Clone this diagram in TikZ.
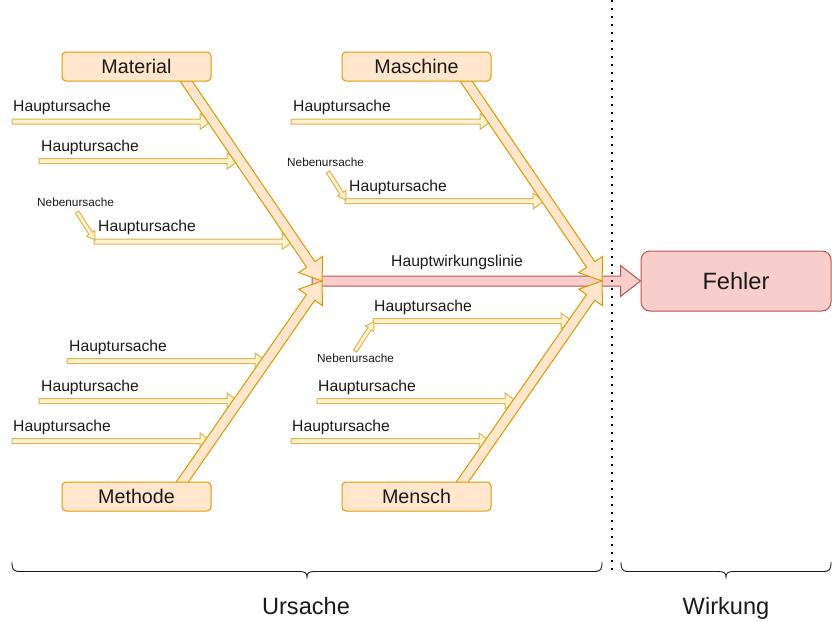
\documentclass[tikz,border=0pt]{standalone}
\usepackage{fontspec}
\setmainfont{Liberation Sans}
\usetikzlibrary{calc}
\definecolor{orfill}{HTML}{FFE6CC}
\definecolor{ordraw}{HTML}{D79B00}
\definecolor{yefill}{HTML}{FFF2CC}
\definecolor{yedraw}{HTML}{D6B656}
\definecolor{refill}{HTML}{F8CECC}
\definecolor{redraw}{HTML}{B85450}
\definecolor{txt}{HTML}{1A1A1A}
% #1 style, #2 from, #3 to, #4 half shaft, #5 half head, #6 head length
\newcommand{\blockarr}[6]{%
  \coordinate (ba-h) at ($(#3)!#6!(#2)$);
  \path[#1] ($(#2)!#4!90:(#3)$) -- ($(ba-h)!#4!90:(#3)$) -- ($(ba-h)!#5!90:(#3)$)
    -- (#3) -- ($(ba-h)!#5!-90:(#3)$) -- ($(ba-h)!#4!-90:(#3)$) -- ($(#2)!#4!-90:(#3)$) -- cycle;
}
\tikzset{
  bigarr/.style={fill=orfill, draw=ordraw, line width=1pt, line join=miter},
  smallarr/.style={fill=yefill, draw=yedraw, line width=1pt, line join=miter},
  redarr/.style={fill=refill, draw=redraw, line width=1pt, line join=miter},
  catbox/.style={fill=orfill, draw=ordraw, line width=1pt, rounded corners=4pt,
    minimum width=149pt, minimum height=29pt, inner sep=0pt, text=txt,
    font=\fontsize{19.7}{22}\selectfont},
  hlabel/.style={anchor=base west, inner sep=0pt, text=txt, font=\fontsize{15.7}{18}\selectfont},
  nlabel/.style={anchor=base west, inner sep=0pt, text=txt, font=\fontsize{11.8}{14}\selectfont},
  biglabel/.style={anchor=base, inner sep=0pt, text=txt, font=\fontsize{23.6}{27}\selectfont},
  bracestyle/.style={draw=txt, line width=0.9pt}
}
\begin{document}
\begin{tikzpicture}[x=1pt,y=-1pt]
\useasboundingbox (0,0) rectangle (832,621);

% coordinates
\coordinate (matO) at (181.9,75);
\coordinate (masO) at (461.9,75);
\coordinate (metO) at (178.8,487);
\coordinate (menO) at (458.8,487);
\coordinate (jL) at (322,281);
\coordinate (jR) at (602,281);
\coordinate (redS) at (312,281);

% main red arrow
\node[fill=refill, draw=redraw, line width=1pt, rounded corners=9pt, minimum width=190pt,
  minimum height=60pt, inner sep=0pt, text=txt, font=\fontsize{23.6}{27}\selectfont]
  (fehler) at (736,281) {Fehler};
\blockarr{redarr}{redS}{fehler.west}{5pt}{15.5pt}{20pt}
\node[anchor=base west, inner sep=0pt, text=txt, font=\fontsize{15.7}{18}\selectfont]
  (hwl) at (391,266.7) {Hauptwirkungslinie};

% small arrows
\foreach \n/\sx/\sy/\tx/\ty/\lx/\ly in {
  ul1/12/121.5/211/121.5/13/111.5,
  ul2/39/161/238/161/41/151.5,
  ul3/94/241.5/293/241.5/98/231.5,
  ll1/67/361/266/361/69/351.5,
  ll2/39/401/238/401/41/391.5,
  ll3/12/441/211/441/13/431.5,
  ur1/291/121.5/491/121.5/293/111.5,
  ur2/345/201/544/201/349/191.5,
  lr1/373/321/572/321/374/311,
  lr2/317/401/516/401/318/391.5,
  lr3/291/441/490/441/292/431.5}{
  \coordinate (\n s) at (\sx,\sy);
  \coordinate (\n t) at (\tx,\ty);
  \blockarr{smallarr}{\n s}{\n t}{2.5pt}{8pt}{11pt}
  \node[hlabel] (\n l) at (\lx,\ly) {Hauptursache};
}
% Nebenursache arrows
\foreach \n/\sx/\sy/\tx/\ty/\lx/\ly in {
  nul/77/212/95/240/37/206.7,
  nur/328/172/346/200/287/166.7,
  nlr/355/351/374/322/317/362.3}{
  \coordinate (\n s) at (\sx,\sy);
  \coordinate (\n t) at (\tx,\ty);
  \blockarr{smallarr}{\n s}{\n t}{2pt}{5pt}{8pt}
  \node[nlabel] (\n l) at (\lx,\ly) {Nebenursache};
}

% diagonal arrows
\blockarr{bigarr}{matO}{jL}{5pt}{14.5pt}{20pt}
\blockarr{bigarr}{metO}{jL}{5pt}{14.5pt}{20pt}
\blockarr{bigarr}{masO}{jR}{5pt}{14.5pt}{20pt}
\blockarr{bigarr}{menO}{jR}{5pt}{14.5pt}{20pt}

% category boxes
\node[catbox] (mat) at (136.5,66.5) {Material};
\node[catbox] (mas) at (416.5,66.5) {Maschine};
\node[catbox] (met) at (136.5,496.5) {Methode};
\node[catbox] (men) at (416.5,496.5) {Mensch};

% divider
\coordinate (divT) at (612,0);
\coordinate (divB) at (612,572);
\draw[line width=1.7pt, dash pattern=on 1.7pt off 6.3pt, black] (divT) -- (divB);

% braces
\path[bracestyle] (12,562) .. controls (12,569) and (13,571.5) .. (20,571.5) -- (299,571.5)
  .. controls (305,571.5) and (307,573) .. (307,577)
  .. controls (307,573) and (309,571.5) .. (315,571.5) -- (594,571.5)
  .. controls (601,571.5) and (602,569) .. (602,562);
\path[bracestyle] (621,562) .. controls (621,569) and (622,571.5) .. (629,571.5) -- (718,571.5)
  .. controls (724,571.5) and (726,573) .. (726,577)
  .. controls (726,573) and (728,571.5) .. (734,571.5) -- (823,571.5)
  .. controls (830,571.5) and (831,569) .. (831,562);
\node[biglabel] (urs) at (306,614) {Ursache};
\node[biglabel] (wir) at (726,614) {Wirkung};
\end{tikzpicture}
\end{document}
